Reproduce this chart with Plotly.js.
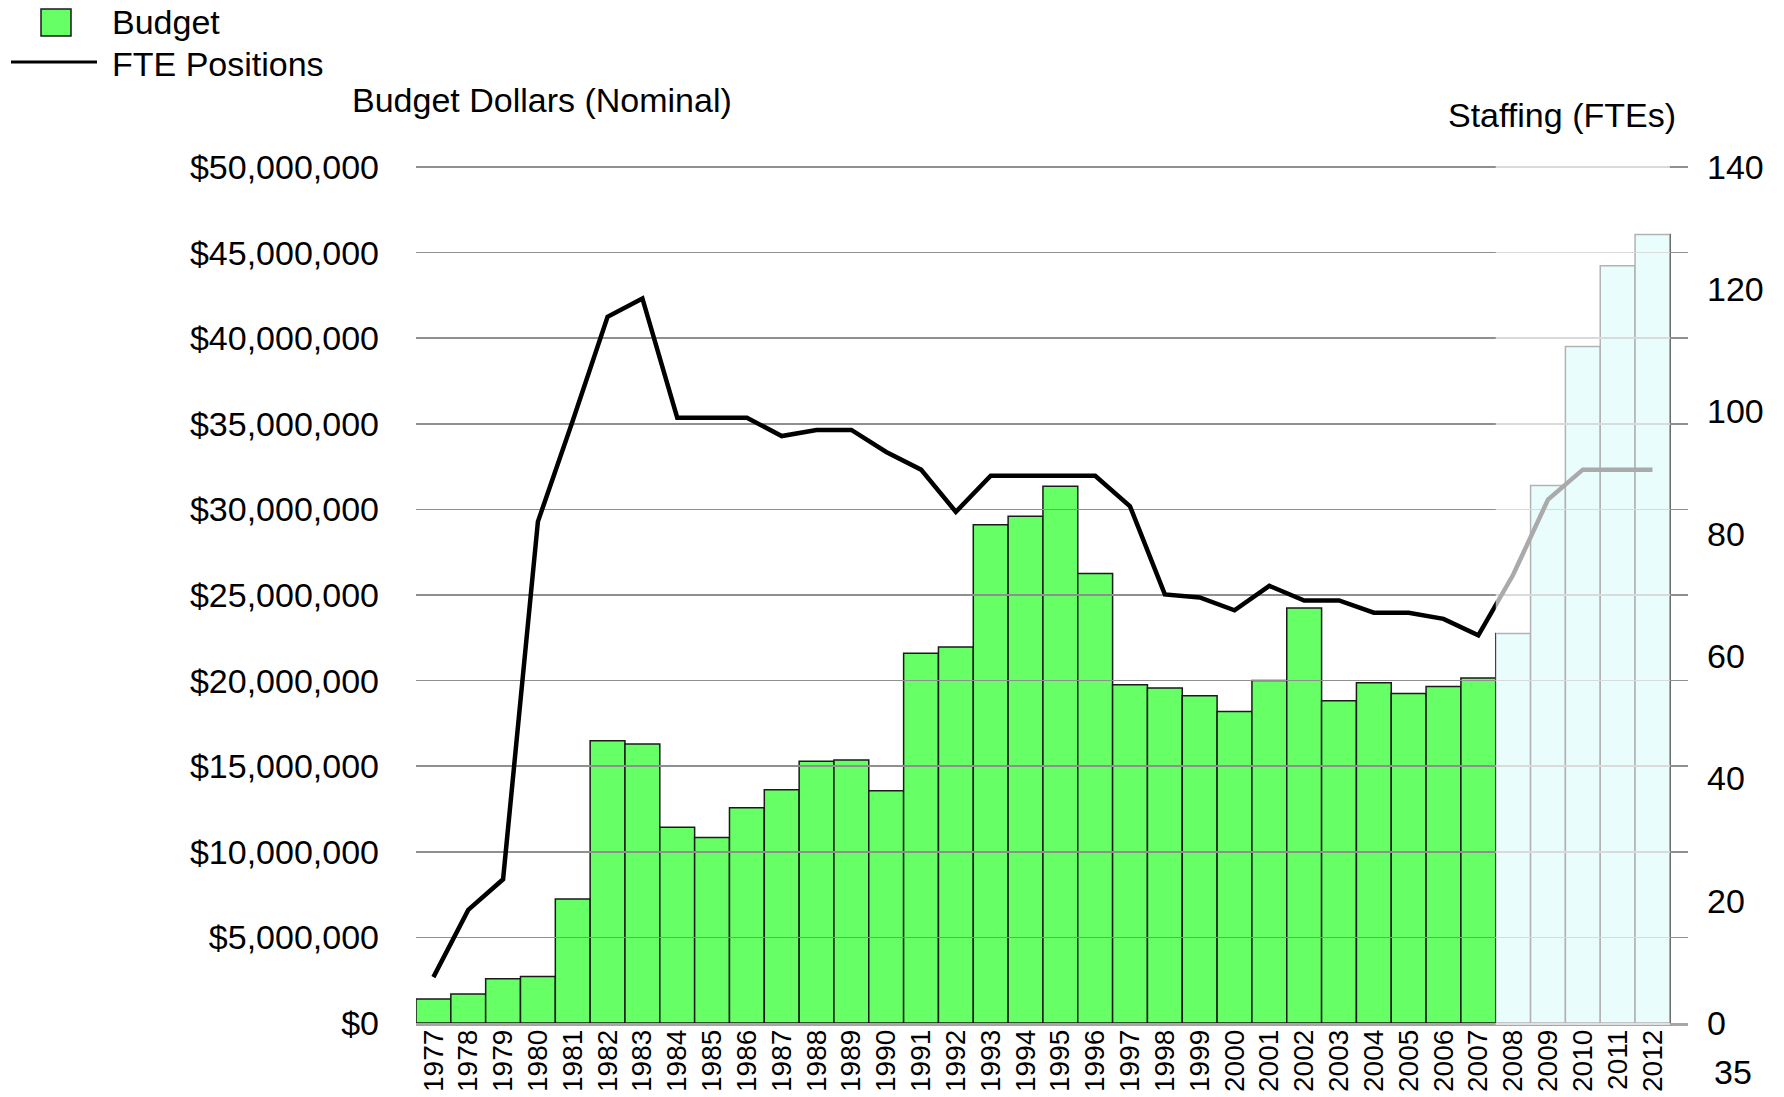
<!DOCTYPE html>
<html>
<head>
<meta charset="utf-8">
<script src="https://cdn.plot.ly/plotly-3.0.1.min.js"></script>
<style>html,body{margin:0;padding:0;background:#fff;}#chart{width:1784px;height:1097px;}</style>
</head>
<body>
<div id="chart"></div>
<script>
// ---- data ----
const years = [1977,1978,1979,1980,1981,1982,1983,1984,1985,1986,1987,1988,1989,1990,1991,1992,1993,1994,1995,1996,1997,1998,1999,2000,2001,2002,2003,2004,2005,2006,2007,2008,2009,2010,2011,2012];
const budget = [1400000,1690000,2590000,2710000,7250000,16490000,16290000,11440000,10840000,12570000,13630000,15290000,15360000,13560000,21600000,21960000,29100000,29600000,31350000,26250000,19760000,19570000,19120000,18190000,20000000,24240000,18830000,19880000,19240000,19650000,20150000,22750000,31400000,39520000,44230000,46060000];
const fte = [7.5,18.5,23.5,82,98.5,115.5,118.5,99,99,99,96,97,97,93.4,90.5,83.6,89.5,89.5,89.5,89.5,84.5,70.1,69.6,67.5,71.5,69.1,69.1,67.1,67.1,66.1,63.4,73.3,85.6,90.5,90.5,90.5];
const forecastYears = [2008,2009,2010,2011,2012];
const budgetTicks = [0,5000000,10000000,15000000,20000000,25000000,30000000,35000000,40000000,45000000,50000000];
const fteTicks = [0,20,40,60,80,100,120,140];
const seriesNames = ["Budget","FTE Positions"];
const axisTitles = {left:"Budget Dollars (Nominal)", right:"Staffing (FTEs)"};
const pageNumber = "35";

// ---- layout geometry (page pixels) ----
const W = 1784, H = 1097;
const L = 416, R = 1688, T = 167, B = 1023;   // T = pixel row of the top tick value
const EXT = 3;                                 // small headroom so the top gridline is drawn
const PW = R - L, PH = B - T, PHX = PH + EXT;
const px = X => (X - L) / PW;
const py = Y => (B - Y) / PHX;
const FONT = "Liberation Sans, Arial, Helvetica, sans-serif";

const budgetMax = budgetTicks[budgetTicks.length - 1];
const fteMax = fteTicks[fteTicks.length - 1];
const scaleExt = PHX / PH;
// gridlines (at budget ticks) expressed on the staffing scale, for the upper subplot
const gridOnFte = budgetTicks.map(v => v / budgetMax * fteMax);

const isForecast = years.map(y => forecastYears.indexOf(y) >= 0);
const barColors = isForecast.map(f => f ? "rgb(190,248,250)" : "#66ff66");
const xRange = [years[0] - 0.5, years[years.length - 1] + 1.02];

const bars = {
  type: "bar", x: years, y: budget, xaxis: "x", yaxis: "y",
  marker: {color: barColors, line: {color: "#1a1a1a", width: 1.5}},
  name: seriesNames[0], showlegend: false, hoverinfo: "x+y"
};
const line = {
  type: "scatter", mode: "lines", x: years, y: fte, xaxis: "x2", yaxis: "y2",
  line: {color: "#000", width: 4.5}, name: seriesNames[1], showlegend: false
};

const fStart = forecastYears[0] - 0.5, fEnd = forecastYears[forecastYears.length - 1] + 0.5;
const GRID = "#8f8f8f";

const layout = {
  width: W, height: H,
  margin: {l: L, r: W - R, t: T - EXT, b: H - B, pad: 0},
  paper_bgcolor: "#fff", plot_bgcolor: "rgba(0,0,0,0)",
  font: {family: FONT, color: "#000", size: 34},
  bargap: 0,
  showlegend: false,
  xaxis: {
    domain: [0, 1], anchor: "y", range: xRange, type: "linear",
    tickvals: years, ticktext: years.map(String), tickangle: -90,
    tickfont: {size: 28, family: FONT}, ticks: "", ticklabelstandoff: -7,
    showline: true, linecolor: "#a6a6a6", linewidth: 2.5,
    showgrid: false, zeroline: false, fixedrange: true
  },
  yaxis: {
    domain: [0, 1], anchor: "x", range: [0, budgetMax * scaleExt],
    tickvals: budgetTicks, tickformat: "$,.0f",
    tickfont: {size: 34, family: FONT}, ticks: "", ticklabelstandoff: 36,
    showgrid: true, gridcolor: GRID, gridwidth: 1.6, zeroline: false, showline: false
  },
  xaxis2: {
    domain: [0, 1], anchor: "y2", range: xRange, type: "linear",
    showticklabels: false, ticks: "", showgrid: false, zeroline: false, showline: false
  },
  yaxis2: {
    domain: [0, 1], anchor: "x2", side: "right", range: [0, fteMax * scaleExt], tickvals: fteTicks,
    tickfont: {size: 34, family: FONT}, ticks: "", ticklabelstandoff: 18,
    showgrid: false, zeroline: false, showline: false,
    minor: {tickmode: "array", tickvals: gridOnFte, ticks: "", showgrid: true, gridcolor: GRID, gridwidth: 1.6}
  },
  shapes: [
    {type: "rect", layer: "above", xref: "x", yref: "paper",
     x0: fStart, x1: fEnd, y0: py(B + 2), y1: 1,
     fillcolor: "rgba(255,255,255,0.667)", line: {width: 0}},
    // legend marks
    {type: "rect", xref: "paper", yref: "paper", x0: px(41), x1: px(71), y0: py(36), y1: py(9),
     fillcolor: "#66ff66", line: {color: "#1a1a1a", width: 1.5}},
    {type: "line", xref: "paper", yref: "paper", x0: px(11), x1: px(97), y0: py(62), y1: py(62),
     line: {color: "#000", width: 3}}
  ],
  annotations: [
    {text: seriesNames[0], xref: "paper", yref: "paper", x: px(110), y: py(22), xanchor: "left", yanchor: "middle", showarrow: false, font: {size: 34}},
    {text: seriesNames[1], xref: "paper", yref: "paper", x: px(110), y: py(64), xanchor: "left", yanchor: "middle", showarrow: false, font: {size: 34}},
    {text: axisTitles.left, xref: "paper", yref: "paper", x: px(350), y: py(100), xanchor: "left", yanchor: "middle", showarrow: false, font: {size: 34}},
    {text: axisTitles.right, xref: "paper", yref: "paper", x: px(1678), y: py(115), xanchor: "right", yanchor: "middle", showarrow: false, font: {size: 34}},
    {text: pageNumber, xref: "paper", yref: "paper", x: px(1733), y: py(1072), xanchor: "center", yanchor: "middle", showarrow: false, font: {size: 34}}
  ]
};

Plotly.newPlot("chart", [bars, line], layout, {displayModeBar: false, staticPlot: true});
</script>
</body>
</html>
